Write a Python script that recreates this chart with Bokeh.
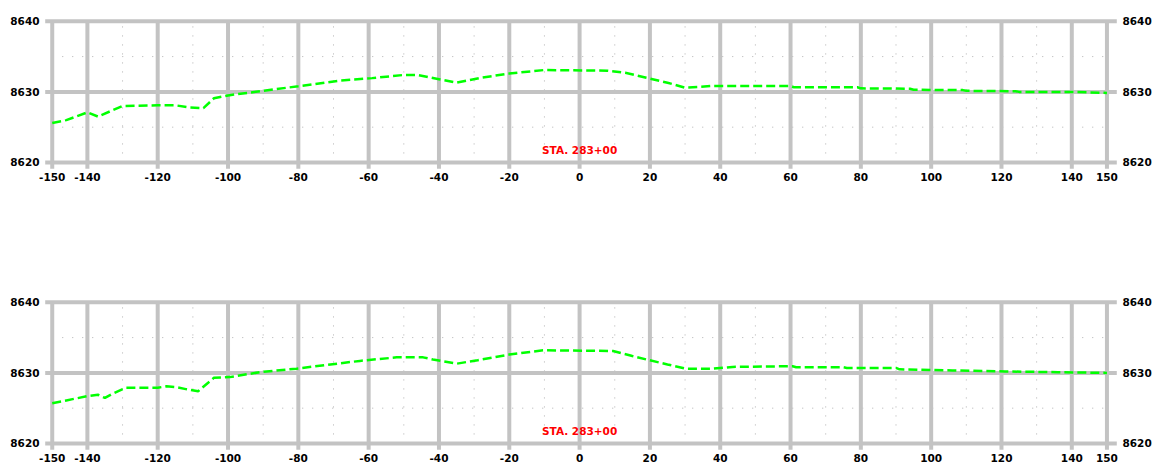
from bokeh.plotting import figure
from bokeh.models import Range1d, FixedTicker, LinearAxis
from bokeh.layouts import column
from bokeh.embed import file_html
from bokeh.resources import INLINE
from bokeh.core.properties import value

# ---------------- data ----------------
X_TICKS = [-150, -140, -120, -100, -80, -60, -40, -20, 0, 20, 40, 60, 80, 100, 120, 140, 150]
X_TICK_LABELS = ["-150", "-140", "-120", "-100", "-80", "-60", "-40", "-20", "0",
                 "20", "40", "60", "80", "100", "120", "140", "150"]
Y_TICKS = [8620, 8630, 8640]
Y_TICK_LABELS = ["8620", "8630", "8640"]
MINOR_X = [-130, -110, -90, -70, -50, -30, -10, 10, 30, 50, 70, 90, 110, 130]
MINOR_Y = [8625, 8635]
STATION_LABEL = "STA. 283+00"
LABEL_X = 0
LABEL_Y = 8621.8

top_offset = [-150, -146, -140, -137, -130, -120, -115, -111, -107, -104, -100, -80,
              -68, -59, -50, -46, -40, -35, -28, -20, -10, 8, 13, 19, 25, 30, 34, 38,
              60, 61, 79, 80, 94, 95, 109, 110, 124, 125, 140, 150]
top_elev = [8625.6, 8626.0, 8627.1, 8626.5, 8628.0, 8628.1, 8628.1, 8627.8, 8627.7, 8629.1,
            8629.5, 8630.8, 8631.6, 8631.95, 8632.4, 8632.4, 8631.8, 8631.3, 8632.0, 8632.6,
            8633.1, 8633.0, 8632.7, 8632.0, 8631.3, 8630.6, 8630.7, 8630.85, 8630.85, 8630.65,
            8630.65, 8630.5, 8630.45, 8630.3, 8630.25, 8630.15, 8630.1, 8630.0, 8630.0, 8629.85]

bot_offset = [-150, -146, -140, -137, -135, -133, -129, -120, -117.5, -115, -112, -108.5,
              -104, -99.5, -91, -80.5, -62.5, -52, -44.5, -41.7, -35, -29, -20, -10.4, 9.5,
              15, 19, 25, 30.3, 37.8, 43.5, 60.6, 61.6, 75, 76, 90, 91, 106, 121, 136, 150]
bot_elev = [8625.7, 8626.1, 8626.7, 8626.9, 8626.45, 8627.0, 8627.9, 8627.9, 8628.1, 8628.0,
            8627.7, 8627.4, 8629.3, 8629.4, 8630.1, 8630.6, 8631.7, 8632.2, 8632.2, 8631.9,
            8631.3, 8631.8, 8632.6, 8633.2, 8633.1, 8632.4, 8631.9, 8631.2, 8630.6, 8630.6,
            8630.85, 8630.95, 8630.8, 8630.8, 8630.7, 8630.7, 8630.5, 8630.35, 8630.2, 8630.1,
            8630.0]

FONT = "DejaVu Sans"
GRID_COLOR = "#c3c3c3"


def style_axis(ax, standoff):
    ax.axis_line_color = None
    ax.major_tick_line_color = None
    ax.minor_tick_line_color = None
    ax.major_tick_in = 0
    ax.major_tick_out = 0
    ax.major_label_standoff = standoff
    ax.major_label_text_font = FONT
    ax.major_label_text_font_style = "bold"
    ax.major_label_text_font_size = "10.5px"
    ax.major_label_text_color = "black"


def make_panel(xs, ys, height, border_bottom):
    p = figure(width=1156, height=height,
               x_range=Range1d(-152.2, 153.0), y_range=Range1d(8619.0, 8640.4),
               output_backend="svg", toolbar_location=None,
               min_border_left=44, min_border_right=39,
               min_border_top=18, min_border_bottom=border_bottom)
    p.outline_line_color = None
    p.grid.visible = False
    p.background_fill_color = "white"
    p.border_fill_color = "white"

    p.xaxis.ticker = FixedTicker(ticks=X_TICKS)
    p.xaxis.major_label_overrides = {t: s for t, s in zip(X_TICKS, X_TICK_LABELS)}
    style_axis(p.xaxis[0], 3)

    p.yaxis.ticker = FixedTicker(ticks=Y_TICKS)
    p.yaxis.major_label_overrides = {t: s for t, s in zip(Y_TICKS, Y_TICK_LABELS)}
    style_axis(p.yaxis[0], 5)

    right = LinearAxis(ticker=FixedTicker(ticks=Y_TICKS),
                       major_label_overrides={t: s for t, s in zip(Y_TICKS, Y_TICK_LABELS)})
    style_axis(right, 5)
    p.add_layout(right, "right")

    # minor dotted grid
    p.segment(x0=MINOR_X, y0=[Y_TICKS[0]] * len(MINOR_X), x1=MINOR_X,
              y1=[Y_TICKS[-1]] * len(MINOR_X),
              line_color="#b0b0b0", line_width=1, line_dash="1 8")
    p.segment(x0=[X_TICKS[0]] * len(MINOR_Y), y0=MINOR_Y, x1=[X_TICKS[-1]] * len(MINOR_Y),
              y1=MINOR_Y, line_color="#b0b0b0", line_width=1, line_dash="1 9")

    # major grid
    p.segment(x0=X_TICKS, y0=[Y_TICKS[0] - 0.9] * len(X_TICKS), x1=X_TICKS,
              y1=[Y_TICKS[-1]] * len(X_TICKS), line_color=GRID_COLOR, line_width=4)
    p.segment(x0=[X_TICKS[0] - 2] * len(Y_TICKS), y0=Y_TICKS,
              x1=[X_TICKS[-1] + 2.8] * len(Y_TICKS), y1=Y_TICKS,
              line_color=GRID_COLOR, line_width=4)

    # ground line
    p.line(xs, ys, line_color="#00ff00", line_width=2.5, line_dash="9 4")

    # station label
    p.text(x=[LABEL_X], y=[LABEL_Y], text=[STATION_LABEL], text_align="center",
           text_baseline="middle", text_color="#ff0000", text_font=value(FONT),
           text_font_style="bold", text_font_size="10.5px")
    return p


p1 = make_panel(top_offset, top_elev, 281, 112)
p2 = make_panel(bot_offset, bot_elev, 185, 16)

layout = column(p1, p2)
open("out.html", "w").write(file_html(layout, INLINE))
